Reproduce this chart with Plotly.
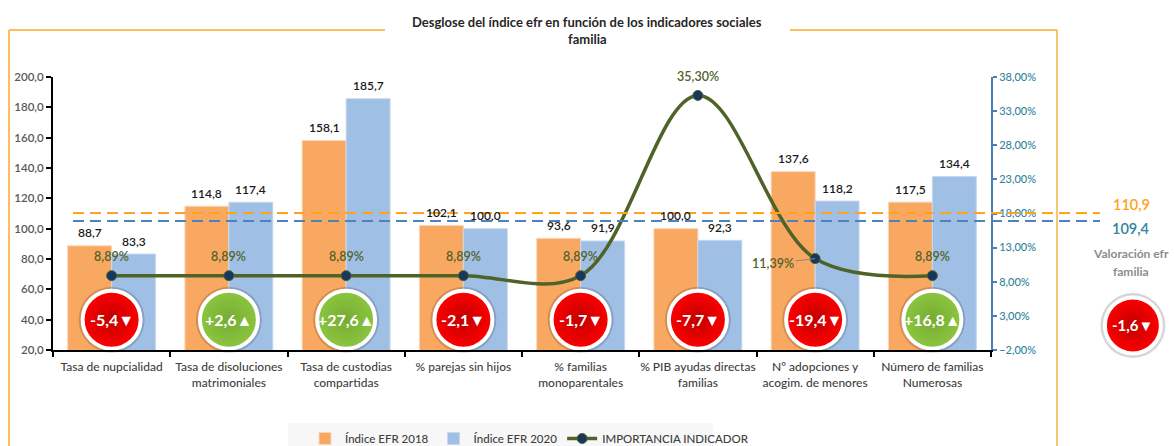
import plotly.graph_objects as go

categories = ["Tasa de nupcialidad", "Tasa de disoluciones<br>matrimoniales", "Tasa de custodias<br>compartidas",
              "% parejas sin hijos", "% familias<br>monoparentales", "% PIB ayudas directas<br>familias",
              "Nº adopciones y<br>acogim. de menores", "Número de familias<br>Numerosas"]
efr_2018 = [88.7, 114.8, 158.1, 102.1, 93.6, 100.0, 137.6, 117.5]
efr_2020 = [83.3, 117.4, 185.7, 100.0, 91.9, 92.3, 118.2, 134.4]
importancia = [8.89, 8.89, 8.89, 8.89, 8.89, 35.30, 11.39, 8.89]
badges = ["-5,4▼", "+2,6▲", "+27,6▲", "-2,1▼", "-1,7▼", "-7,7▼", "-19,4▼", "+16,8▲"]
avg_lines = [110.4, 105.0]
avg_labels = ["110,9", "109,4"]
total_badge = "-1,6▼"
fmt = lambda v: f"{v:.1f}".replace(".", ",")

W, H = 1174, 446
L, R, T, B = 53, 991, 77, 350
px = lambda x: (x - L) / (W - L)
py = lambda y: (B - y) / (B - T)
CAT_W = (R - L) / len(categories)

FONT = "Lato"
ORANGE, BLUE = "#f9a862", "#a0bfe5"
OLIVE = "#4f6228"
RED, RED_D, GREEN, GREEN_D = "#ff0000", "#c00000", "#8cc63f", "#76ab33"

fig = go.Figure()
fig.add_bar(x=categories, y=efr_2018, name="Índice EFR 2018", marker=dict(color=ORANGE, line=dict(color="#fcd5b5", width=1)))
fig.add_bar(x=categories, y=efr_2020, name="Índice EFR 2020", marker=dict(color=BLUE, line=dict(color="#c6d9f1", width=1)))

cols = [GREEN if b[0] == "+" else RED for b in badges]
edges = [GREEN_D if b[0] == "+" else RED_D for b in badges]
bvals = [40] * len(categories)
fig.add_scatter(x=categories, y=bvals, mode="markers", showlegend=False, hoverinfo="skip",
                marker=dict(size=66, color="rgba(0,0,0,0.16)"), cliponaxis=False)
fig.add_scatter(x=categories, y=bvals, mode="markers", showlegend=False, hoverinfo="skip", cliponaxis=False,
                marker=dict(size=58, color=cols, gradient=dict(type="radial", color=edges),
                            line=dict(color="white", width=4)))

fig.add_scatter(x=categories, y=importancia, yaxis="y2", mode="lines+markers", name="IMPORTANCIA INDICADOR",
                line=dict(color="#4f6228", width=3.5, shape="spline", smoothing=1.0),
                marker=dict(color="#17375e", size=10, line=dict(color="#4f6228", width=1)))

# summary badge beyond the plot area, on a full-width hidden axis
fig.add_scatter(x=[8.71], y=[36.2], xaxis="x3", mode="markers", showlegend=False, hoverinfo="skip", cliponaxis=False,
                marker=dict(size=65, color="rgba(0,0,0,0.16)"))
fig.add_scatter(x=[8.71], y=[36.2], xaxis="x3", mode="markers", showlegend=False, hoverinfo="skip", cliponaxis=False,
                marker=dict(size=56, color=RED, gradient=dict(type="radial", color=RED_D),
                            line=dict(color="white", width=4)))

ann = []
for i, c in enumerate(categories):
    ann.append(dict(x=c, y=efr_2018[i], xshift=-22, yshift=13, text=fmt(efr_2018[i]), showarrow=False,
                    font=dict(size=12, color="#1a1a1a", family=FONT, weight=600)))
    ann.append(dict(x=c, y=efr_2020[i], xshift=22, yshift=13, text=fmt(efr_2020[i]), showarrow=False,
                    font=dict(size=12, color="#1a1a1a", family=FONT, weight=600)))
    ann.append(dict(x=c, y=40, text=badges[i], showarrow=False,
                    font=dict(size=16, color="white", family=FONT, weight=700)))
    pct = f"{importancia[i]:.2f}%".replace(".", ",")
    if i == 6:
        ann.append(dict(x=c, y=importancia[i], yref="y2", text=pct, showarrow=True, arrowhead=0, arrowwidth=1,
                        arrowcolor="#8a8a8a", ax=-42, ay=5, font=dict(size=12.5, color=OLIVE, family=FONT, weight=600)))
    else:
        ann.append(dict(x=c, y=importancia[i], yref="y2", yshift=19, text=pct, showarrow=False,
                        font=dict(size=12.5, color=OLIVE, family=FONT, weight=600)))


def text(x, y, s, size, color, weight=400):
    ann.append(dict(xref="paper", yref="paper", x=px(x), y=py(y), text=s, showarrow=False,
                    xanchor="center", yanchor="middle",
                    font=dict(size=size, color=color, family=FONT, weight=weight)))


text(587, 22, "Desglose del índice efr en función de los indicadores sociales", 13, "#262626", 700)
text(587, 39, "familia", 13, "#262626", 700)
text(1131, 204, avg_labels[0], 14.5, "#ffa31a", 600)
text(1131, 228, avg_labels[1], 14.5, "#31859c", 600)
text(1131, 254, "Valoración efr", 12, "#8c8c8c", 700)
text(1131, 271, "familia", 12, "#8c8c8c", 700)
text(1132, 325, total_badge, 15, "white", 700)

shapes = [
    dict(type="rect", xref="paper", yref="paper", x0=px(288), x1=px(713), y0=py(423), y1=py(446),
         fillcolor="#f7f7f7", line_width=0, layer="below"),
    dict(type="line", xref="paper", yref="paper", x0=px(9), x1=px(385), y0=py(30), y1=py(30), line=dict(color="#ffa726", width=1.5)),
    dict(type="line", xref="paper", yref="paper", x0=px(790), x1=px(1057), y0=py(30), y1=py(30), line=dict(color="#ffa726", width=1.5)),
    dict(type="line", xref="paper", yref="paper", x0=px(9), x1=px(9), y0=py(30), y1=py(446), line=dict(color="#ffa726", width=1.5)),
    dict(type="line", xref="paper", yref="paper", x0=px(1057), x1=px(1057), y0=py(30), y1=py(446), line=dict(color="#f5b04c", width=1.5)),
]
for v, col in zip(avg_lines, ["#ffa31a", "#4f81bd"]):
    shapes.append(dict(type="line", xref="paper", yref="y", x0=px(73), x1=px(1100), y0=v, y1=v, layer="above",
                       line=dict(color=col, width=2, dash="11px,6px")))

fig.update_layout(
    width=W, height=H, autosize=False, margin=dict(l=L, r=0, t=T, b=H - B, autoexpand=False),
    paper_bgcolor="white", plot_bgcolor="rgba(0,0,0,0)", barmode="group", bargap=0.25, bargroupgap=0,
    separators=",.", font=dict(family=FONT), showlegend=True, annotations=ann, shapes=shapes,
    legend=dict(orientation="h", x=px(305), y=py(424), xanchor="left", yanchor="top", bgcolor="rgba(0,0,0,0)",
                font=dict(size=11.5, color="#404040", family=FONT, weight=500), traceorder="normal"),
    xaxis=dict(type="category", categoryorder="array", categoryarray=categories, range=[-0.5, 7.5],
               domain=[0, (R - L) / (W - L)], tickson="boundaries", ticks="outside",
               ticklen=5, tickwidth=2, tickcolor="black", showline=True, linecolor="black", linewidth=2,
               showgrid=False, tickangle=0, ticklabelstandoff=5,
               tickfont=dict(size=12, color="#3f3f3f", family=FONT, weight=500)),
    xaxis3=dict(anchor="y", domain=[0, 1], range=[-0.5, -0.5 + (W - L) / CAT_W], visible=False),
    yaxis=dict(range=[20, 200], dtick=20, tickformat=".1f", ticks="outside", ticklen=5, tickwidth=2, tickcolor="black",
               showline=True, linecolor="black", linewidth=2, showgrid=False, zeroline=False,
               tickfont=dict(size=11.5, color="#595959", family=FONT, weight=600)),
    yaxis2=dict(overlaying="y", side="right", range=[-2, 38], tick0=-2, dtick=5, tickformat=".2f", ticksuffix="%",
                ticks="outside", ticklen=4, tickwidth=2, tickcolor="#4a7ebb", showline=True, linecolor="#4a7ebb",
                linewidth=2, showgrid=False, zeroline=False,
                tickfont=dict(size=11, color="#31859c", family=FONT, weight=500)),
)

fig.write_html("out.html", config=dict(displayModeBar=False),
               post_script="document.body.style.margin='0';document.documentElement.style.overflow='hidden';")
